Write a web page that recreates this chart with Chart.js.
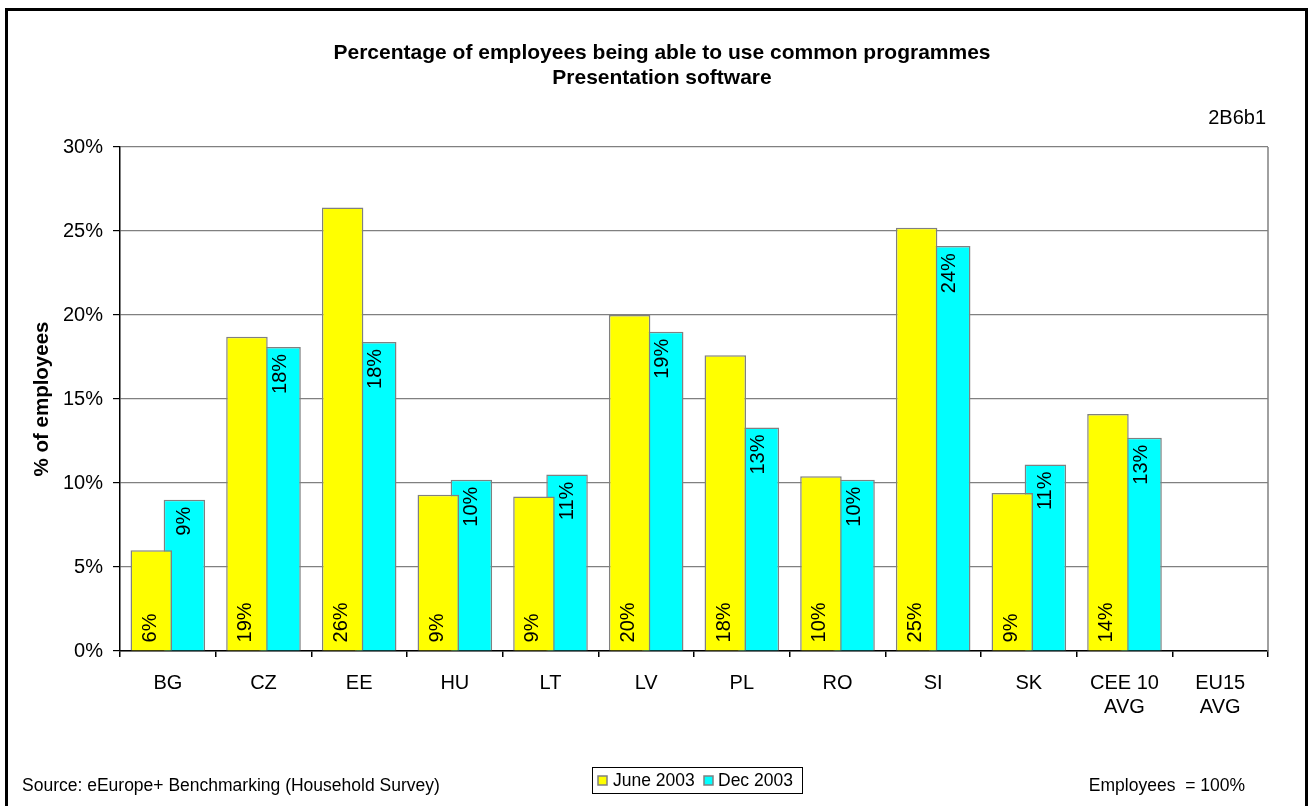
<!DOCTYPE html>
<html>
<head>
<meta charset="utf-8">
<script src="https://cdn.jsdelivr.net/npm/chart.js@4/dist/chart.umd.min.js"></script>
<style>
  html, body { margin: 0; padding: 0; background: #fff; }
  canvas { display: block; }
</style>
</head>
<body>
<canvas id="c" width="1308" height="806" style="width:1308px;height:806px"></canvas>
<script>
// ---- Data ----
const categories = [['BG'], ['CZ'], ['EE'], ['HU'], ['LT'], ['LV'], ['PL'], ['RO'], ['SI'], ['SK'], ['CEE 10', 'AVG'], ['EU15', 'AVG']];
const seriesNames = ['June 2003', 'Dec 2003'];
const june2003 = [6.0, 18.7, 26.4, 9.3, 9.2, 20.0, 17.6, 10.4, 25.2, 9.4, 14.1, null];
const dec2003  = [9.0, 18.1, 18.4, 10.2, 10.5, 19.0, 13.3, 10.2, 24.1, 11.1, 12.7, null];
const yTicks = [0, 5, 10, 15, 20, 25, 30];
const titleLines = ['Percentage of employees being able to use common programmes', 'Presentation software'];
const chartCode = '2B6b1';
const sourceText = 'Source: eEurope+ Benchmarking (Household Survey)';
const baseText = 'Employees  = 100%';
const yTitle = '% of employees';

const FONT = '"Liberation Sans", Arial, Helvetica, sans-serif';
const colors = ['#FFFF00', '#00FFFF'];

const decorPlugin = {
  id: 'decor',
  beforeDraw(chart) {
    const ctx = chart.ctx;
    ctx.save();
    ctx.fillStyle = '#fff';
    ctx.fillRect(0, 0, chart.width, chart.height);
    ctx.restore();
  },
  afterDraw(chart) {
    const ctx = chart.ctx;
    const a = chart.chartArea;
    ctx.save();
    // plot area right border
    ctx.strokeStyle = '#808080';
    ctx.lineWidth = 1.5;
    ctx.beginPath();
    ctx.moveTo(a.right, a.top);
    ctx.lineTo(a.right, a.bottom);
    ctx.stroke();
    // outer frame
    ctx.strokeStyle = '#000';
    ctx.lineWidth = 3;
    ctx.strokeRect(6.5, 9.5, 1300, 810);
    // titles
    ctx.fillStyle = '#000';
    ctx.textAlign = 'center';
    ctx.textBaseline = 'middle';
    ctx.font = 'bold 21px ' + FONT;
    ctx.fillText(titleLines[0], 662, 53);
    ctx.fillText(titleLines[1], 662, 78);
    ctx.font = '20px ' + FONT;
    ctx.textAlign = 'right';
    ctx.fillText(chartCode, 1266, 118);
    ctx.font = '17.5px ' + FONT;
    ctx.textAlign = 'left';
    ctx.fillText(sourceText, 22, 786);
    ctx.textAlign = 'right';
    ctx.fillText(baseText, 1245, 786);
    // legend
    ctx.lineWidth = 1;
    ctx.strokeStyle = '#000';
    ctx.strokeRect(592.5, 767.5, 210, 26);
    const items = [{x: 598, tx: 613}, {x: 704, tx: 718}];
    chart.data.datasets.forEach((ds, i) => {
      ctx.fillStyle = ds.backgroundColor;
      ctx.fillRect(items[i].x, 776, 9, 9);
      ctx.strokeStyle = '#808080';
      ctx.lineWidth = 1.5;
      ctx.strokeRect(items[i].x, 776, 9, 9);
      ctx.fillStyle = '#000';
      ctx.textAlign = 'left';
      ctx.font = '17.5px ' + FONT;
      ctx.fillText(ds.label, items[i].tx, 781);
    });
    ctx.restore();
  }
};

const labelPlugin = {
  id: 'barLabels',
  afterDatasetsDraw(chart) {
    const ctx = chart.ctx;
    ctx.save();
    ctx.fillStyle = '#000';
    ctx.font = '20px ' + FONT;
    ctx.textBaseline = 'middle';
    chart.data.datasets.forEach((ds, di) => {
      const meta = chart.getDatasetMeta(di);
      meta.data.forEach((bar, i) => {
        const v = ds.data[i];
        if (v === null || v === undefined) return;
        const txt = Math.round(v) + '%';
        const p = bar.getProps(['x', 'y', 'base'], true);
        ctx.save();
        if (di === 0) {
          ctx.translate(p.x - 1, p.base - 8);
          ctx.rotate(-Math.PI / 2);
          ctx.textAlign = 'left';
        } else {
          ctx.translate(p.x, p.y + 7);
          ctx.rotate(-Math.PI / 2);
          ctx.textAlign = 'right';
        }
        ctx.fillText(txt, 0, 0);
        ctx.restore();
      });
    });
    ctx.restore();
  }
};

new Chart(document.getElementById('c'), {
  type: 'bar',
  data: {
    labels: categories,
    datasets: [
      { label: seriesNames[0], data: june2003, backgroundColor: colors[0], borderColor: '#808080', borderWidth: 1.5 },
      { label: seriesNames[1], data: dec2003, backgroundColor: colors[1], borderColor: '#808080', borderWidth: 1.5 }
    ]
  },
  options: {
    responsive: false,
    animation: false,
    devicePixelRatio: 1,
    categoryPercentage: 0.692,
    barPercentage: 1.254,
    layout: { padding: { left: 0, right: 40, top: 147, bottom: 0 } },
    plugins: {
      legend: { display: false },
      title: { display: false },
      tooltip: { enabled: false }
    },
    scales: {
      x: {
        offset: true,
        grid: { display: true, drawOnChartArea: false, drawTicks: true, tickLength: 6, color: '#000', offset: true, lineWidth: 1.5 },
        border: { color: '#000', width: 1.5 },
        ticks: { color: '#000', font: { family: FONT, size: 20 }, padding: 14, maxRotation: 0, autoSkip: false },
        afterFit(scale) { scale.height = 155; }
      },
      y: {
        min: 0,
        max: 30,
        afterBuildTicks(scale) { scale.ticks = yTicks.map(v => ({ value: v })); },
        grid: { color: '#808080', lineWidth: 1.2, tickColor: '#000', tickLength: 7 },
        border: { color: '#000', width: 1.5 },
        ticks: { color: '#000', font: { family: FONT, size: 20 }, padding: 10, callback: v => v + '%' },
        title: { display: true, text: yTitle, color: '#000', font: { family: FONT, size: 20.5, weight: 'bold' }, padding: { top: 30, bottom: 0 } },
        afterFit(scale) { scale.width = 120; }
      }
    }
  },
  plugins: [decorPlugin, labelPlugin]
});
</script>
</body>
</html>
